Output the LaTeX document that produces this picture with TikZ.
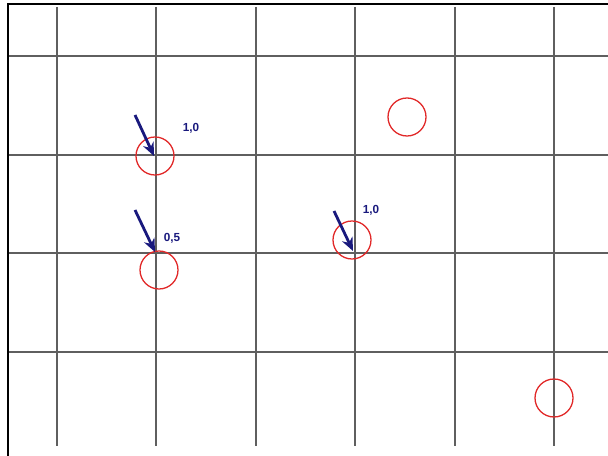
\documentclass[tikz,border=0pt]{standalone}
\usepackage{xcolor}
\usepackage{fontspec}
\setsansfont{Liberation Sans}
\usetikzlibrary{arrows.meta,positioning}
\definecolor{gridgray}{RGB}{95,95,95}
\definecolor{ringred}{RGB}{225,40,40}
\definecolor{arrowblue}{RGB}{25,25,125}
\tikzset{
  ring/.style={circle,draw=ringred,line width=1.1pt,minimum size=1.14cm,inner sep=0pt},
  vec/.style={draw=arrowblue,line width=2.4pt,-{Stealth[length=4mm,width=3.4mm]}},
  val/.style={font=\sffamily\bfseries\fontsize{10}{11}\selectfont,text=arrowblue,inner sep=0pt}
}
\begin{document}
\begin{tikzpicture}[x=0.03cm,y=-0.03cm]
  \useasboundingbox (0,0) rectangle (608,456);
  % grid
  \foreach \x in {57,156,256,355,455,554} \draw[gridgray,line width=0.9pt] (\x,7) -- (\x,446);
  \foreach \y in {56,155,253,352} \draw[gridgray,line width=0.9pt] (8,\y) -- (608,\y);
  % frame (left and top)
  \draw[black,line width=1.4pt] (8,456) -- (8,4) -- (608,4);
  % circles
  \node[ring] (c1) at (155,156) {};
  \node[ring] (c2) at (159,270) {};
  \node[ring] (c3) at (352,240) {};
  \node[ring] (c4) at (407,117) {};
  \node[ring] (c5) at (554,398) {};
  % arrows
  \coordinate (t1) at (135,115);
  \coordinate (h1) at (154,156);
  \coordinate (t2) at (135,210);
  \coordinate (h2) at (155,252);
  \coordinate (t3) at (334,211);
  \coordinate (h3) at (353,251);
  \draw[vec] (t1) -- (h1);
  \draw[vec] (t2) -- (h2);
  \draw[vec] (t3) -- (h3);
  % values
  \node[val] (v1) at (191,128) {1,0};
  \node[val] (v2) at (172,238) {0,5};
  \node[val] (v3) at (371,210) {1,0};
\end{tikzpicture}
\end{document}
